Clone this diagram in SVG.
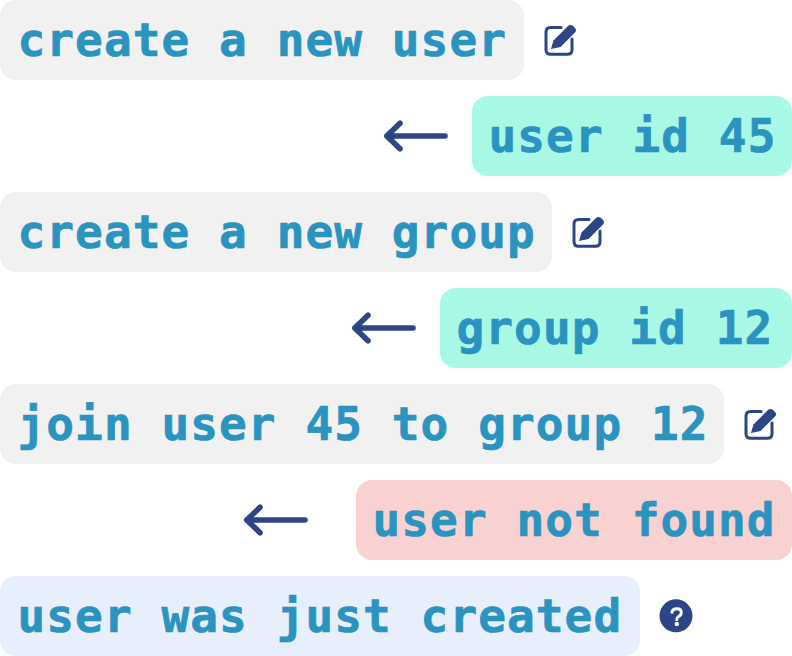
<svg xmlns="http://www.w3.org/2000/svg" width="792" height="656" viewBox="0 0 792 656">
<style>
.t{font-family:"DejaVu Sans Mono","Liberation Mono",monospace;font-weight:700;font-size:46px;fill:#2b93c0;stroke:#2b93c0;stroke-width:.7px;letter-spacing:1.1px}
.g{fill:#f1f1f1}.m{fill:#a7f9e6}.r{fill:#f9d1d1}.b{fill:#e7eefc}
.a{fill:none;stroke:#2b4586;stroke-width:5.6;stroke-linecap:round;stroke-linejoin:round}
.e{fill:none;stroke:#2b4586;stroke-width:3;stroke-linecap:round}
.p{fill:#2b4586}
</style>
<defs>
<g id="edit">
<path class="e" d="M17 2.500H6.500Q2 2.500 2 7V24.700Q2 29.200 6.500 29.200H23.500Q28 29.200 28 24.700V14"/>
<path class="p" d="M7 24L9.500 15.500L24 1Q26 -0.800 28.500 .5L31 3Q33 5 31 7.500L16.500 22Z"/>
</g>
<path id="arrow" class="a" d="M61 0H2.800M16 -12.700L2.800 0L16 12.700"/>
</defs>
<g id="n1"><rect class="g" width="524" height="80" rx="16"/><text class="t" x="17.500" y="56">create a new user</text><use href="#edit" x="544" y="25"/></g>
<g id="n2"><rect class="m" x="472" y="96" width="320" height="80" rx="16"/><text class="t" x="488.500" y="152">user id 45</text></g>
<g id="n3"><rect class="g" y="192" width="552" height="80" rx="16"/><text class="t" x="17.500" y="248">create a new group</text><use href="#edit" x="572" y="217"/></g>
<g id="n4"><rect class="m" x="440" y="288" width="352" height="80" rx="16"/><text class="t" x="456.500" y="344">group id 12</text></g>
<g id="n5"><rect class="g" y="384" width="724" height="80" rx="16"/><text class="t" x="17.500" y="440">join user 45 to group 12</text><use href="#edit" x="744" y="409"/></g>
<g id="n6"><rect class="r" x="356" y="480" width="436" height="80" rx="16"/><text class="t" x="372.500" y="536">user not found</text></g>
<g id="n7"><rect class="b" y="576" width="640" height="80" rx="16"/><text class="t" x="17.500" y="632">user was just created</text>
<circle class="p" cx="676" cy="615.800" r="16.500"/><path d="M672 612.300Q672.500 608.800 676.800 608.800Q681.300 608.800 681.300 612.500Q681.300 615 678.800 616.300Q676.800 617.500 676.800 619.500" fill="none" stroke="#fff" stroke-width="3" stroke-linecap="round"/><circle cx="676.800" cy="624" r="2.200" fill="#fff"/></g>
<g id="connectors"><use href="#arrow" x="384" y="136"/><use href="#arrow" x="352" y="328"/><use href="#arrow" x="244" y="520"/></g>
</svg>
